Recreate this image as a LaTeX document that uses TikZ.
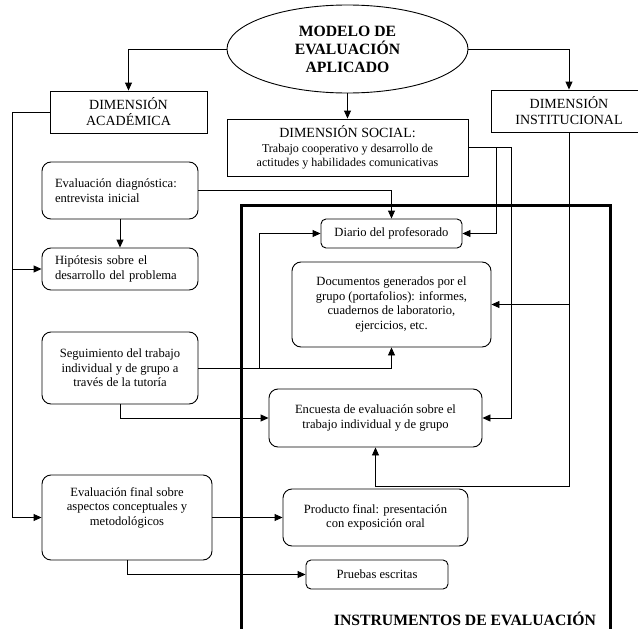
\documentclass[tikz,border=0pt]{standalone}
\usepackage{fontspec}
\setmainfont{Liberation Serif}
\usetikzlibrary{shapes.geometric, arrows.meta, positioning}
\newcommand{\boxfont}{\fontsize{12.6}{14.5}\selectfont}
\newcommand{\subfont}{\fontsize{12}{14}\selectfont}
\newcommand{\dimfont}{\fontsize{14}{16}\selectfont}
\newcommand{\titfont}{\fontsize{15.7}{18}\selectfont\bfseries}

\begin{document}
\begin{tikzpicture}[x=1pt, y=-1pt,
  dimbox/.style={rectangle, draw, line width=0.9pt, inner sep=0pt,
                 align=center, font=\dimfont},
  rbox/.style={rectangle, rounded corners=9pt, draw, line width=0.9pt,
               inner sep=0pt, align=center, font=\boxfont},
  lbox/.style={rbox, align=left, text width=130pt},
  sbox/.style={rbox, rounded corners=5pt},
  arrow/.style={-{Triangle[length=8pt,width=7pt]}, line width=0.9pt},
]
  \useasboundingbox (0,0) rectangle (638,629);

  % marco de instrumentos
  \draw[line width=3pt] (241,629) -- (241,205) -- (610,205) -- (610,629);

  \node[ellipse, draw, line width=0.9pt, minimum width=241pt, minimum height=88pt,
        inner sep=0pt, align=center, font=\titfont] (model) at (347.5,49)
        {MODELO DE\\EVALUACIÓN\\APLICADO};
  \node[dimbox, minimum width=157pt, minimum height=42pt] (acad) at (128.5,112)
        {DIMENSIÓN\\ACADÉMICA};
  \node[dimbox, minimum width=241pt, minimum height=57pt] (social) at (347.5,147.5)
        {DIMENSIÓN SOCIAL:\\[-1pt]{\subfont Trabajo cooperativo y desarrollo de}\\[-2pt]
         {\subfont actitudes y habilidades comunicativas}};
  \node[dimbox, minimum width=156pt, minimum height=42pt] (inst) at (569,111)
        {DIMENSIÓN\\INSTITUCIONAL};

  % dimension academica
  \node[lbox, minimum width=156pt, minimum height=57pt] (diag) at (120,190.5)
        {Evaluación diagnóstica:\\entrevista inicial};
  \node[lbox, minimum width=156pt, minimum height=42pt] (hipo) at (120,269)
        {Hipótesis sobre el\\desarrollo del problema};
  \node[rbox, minimum width=156pt, minimum height=72pt] (segu) at (120,368)
        {Seguimiento del trabajo\\individual y de grupo a\\través de la tutoría};
  \node[rbox, minimum width=170pt, minimum height=85pt, text depth=22pt] (final) at (127,517.5)
        {Evaluación final sobre\\aspectos conceptuales y\\metodológicos};

  % instrumentos
  \node[sbox, minimum width=141pt, minimum height=29pt] (diario) at (391.5,233.5)
        {Diario del profesorado};
  \node[rbox, minimum width=199pt, minimum height=85pt] (docs) at (391.5,304.5)
        {Documentos generados por el\\grupo (portafolios): informes,\\cuadernos de laboratorio,\\ejercicios, etc.};
  \node[rbox, minimum width=213pt, minimum height=58pt] (encu) at (375.5,418)
        {Encuesta de evaluación sobre el\\trabajo individual y de grupo};
  \node[rbox, minimum width=185pt, minimum height=57pt] (prod) at (375.5,517.5)
        {Producto final: presentación\\con exposición oral};
  \node[sbox, minimum width=142pt, minimum height=29pt] (pruebas) at (377,574.5)
        {Pruebas escritas};
  \node[font=\titfont, inner sep=0pt] (instr) at (465,619)
        {INSTRUMENTOS DE EVALUACIÓN};

  \draw[arrow] (model.west) -| (acad.north);
  \draw[arrow] (model.east) -| (inst.north);
  \draw[arrow] (model.south) -- (social.north);

  \draw[arrow] (acad.west) -- ++(-37,0) |- (hipo.west);
  \draw[arrow] (acad.west) -- ++(-37,0) |- (final.west);
  \draw[arrow] (diag.south) -- (hipo.north);
  \draw[arrow] (diag.east) -| (diario.north);

  \draw[arrow] (social.east) -- ++(28,0) |- (diario.east);
  \draw[arrow] (social.east) -- ++(43,0) |- (encu.east);
  \draw[arrow] (inst.south) |- (docs.east);
  \draw[arrow] (inst.south) -- ++(0,354) -| (encu.south);

  \draw[arrow] (segu.east) -| (docs.south);
  \draw[arrow] (segu.east) -- ++(61,0) |- (diario.west);
  \draw[arrow] (segu.south) |- (encu.west);

  \draw[arrow] (final.east) -- (prod.west);
  \draw[arrow] (final.south) |- (pruebas.west);
\end{tikzpicture}
\end{document}
